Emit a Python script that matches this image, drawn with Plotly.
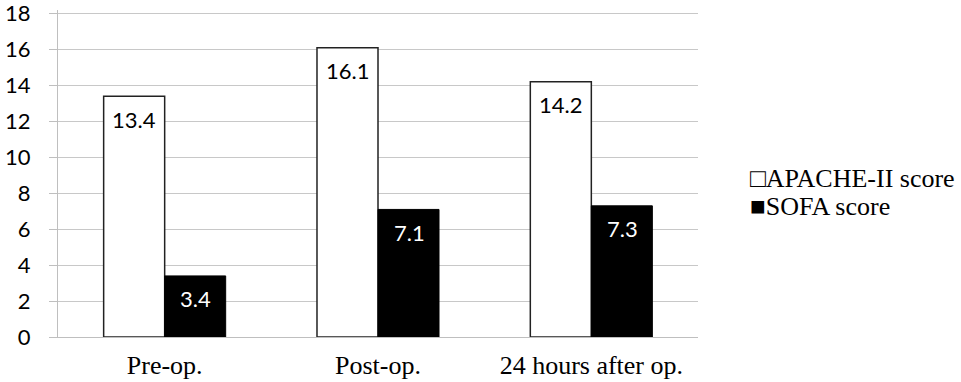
import plotly.graph_objects as go

categories = ["Pre-op.", "Post-op.", "24 hours after op."]
apache_values = [13.4, 16.1, 14.2]
sofa_values = [3.4, 7.1, 7.3]
series_names = ["APACHE-II score", "SOFA score"]
y_ticks = [0, 2, 4, 6, 8, 10, 12, 14, 16, 18]

fig = go.Figure()
fig.add_trace(go.Bar(x=categories, y=apache_values, name=series_names[0],
                     marker=dict(color="white", line=dict(color="#222222", width=1.5)),
                     showlegend=False))
fig.add_trace(go.Bar(x=categories, y=sofa_values, name=series_names[1],
                     marker=dict(color="black", line=dict(color="black", width=1)),
                     showlegend=False))

# value labels inside the bars near the top
for cat, v in zip(categories, apache_values):
    fig.add_annotation(x=cat, y=v, text=f"{v}", showarrow=False, xref="x", yref="y",
                       xshift=-31, yshift=-23, yanchor="middle",
                       font=dict(family="Lato", size=22, color="black"))
for cat, v in zip(categories, sofa_values):
    fig.add_annotation(x=cat, y=v, text=f"{v}", showarrow=False, xref="x", yref="y",
                       xshift=31, yshift=-23, yanchor="middle",
                       font=dict(family="Lato", size=22, color="white"))

# legend drawn as text like the original
fig.add_annotation(x=1.078, y=0.485, xref="paper", yref="paper", xanchor="left", yanchor="middle",
                   text="□" + series_names[0], showarrow=False,
                   font=dict(family="Liberation Serif", size=26, color="black"))
fig.add_annotation(x=1.078, y=0.399, xref="paper", yref="paper", xanchor="left", yanchor="middle",
                   text="■" + series_names[1], showarrow=False,
                   font=dict(family="Liberation Serif", size=26, color="black"))

fig.update_layout(
    width=961, height=382,
    margin=dict(l=58, r=263, t=9.9, b=45, pad=0),
    plot_bgcolor="white", paper_bgcolor="white",
    barmode="group", bargap=0.428, bargroupgap=0,
)
fig.update_xaxes(showgrid=False, showline=True, linecolor="#bfbfbf", linewidth=1, automargin=False,
                 ticks="", tickfont=dict(family="Liberation Serif", size=26, color="black"),
                 ticklabelstandoff=5)
fig.update_yaxes(range=[0, 18.2], tickvals=y_ticks, showgrid=True, gridcolor="#c8c8c8", gridwidth=1,
                 zeroline=False, showline=True, linecolor="#bfbfbf", linewidth=1, automargin=False,
                 ticks="outside", ticklen=8, tickcolor="#bfbfbf", ticklabeloverflow="allow",
                 tickfont=dict(family="Lato", size=22, color="black"), ticklabelstandoff=14)

fig.write_html("out.html", config={"displayModeBar": False},
               post_script="document.body.style.margin='0';")
